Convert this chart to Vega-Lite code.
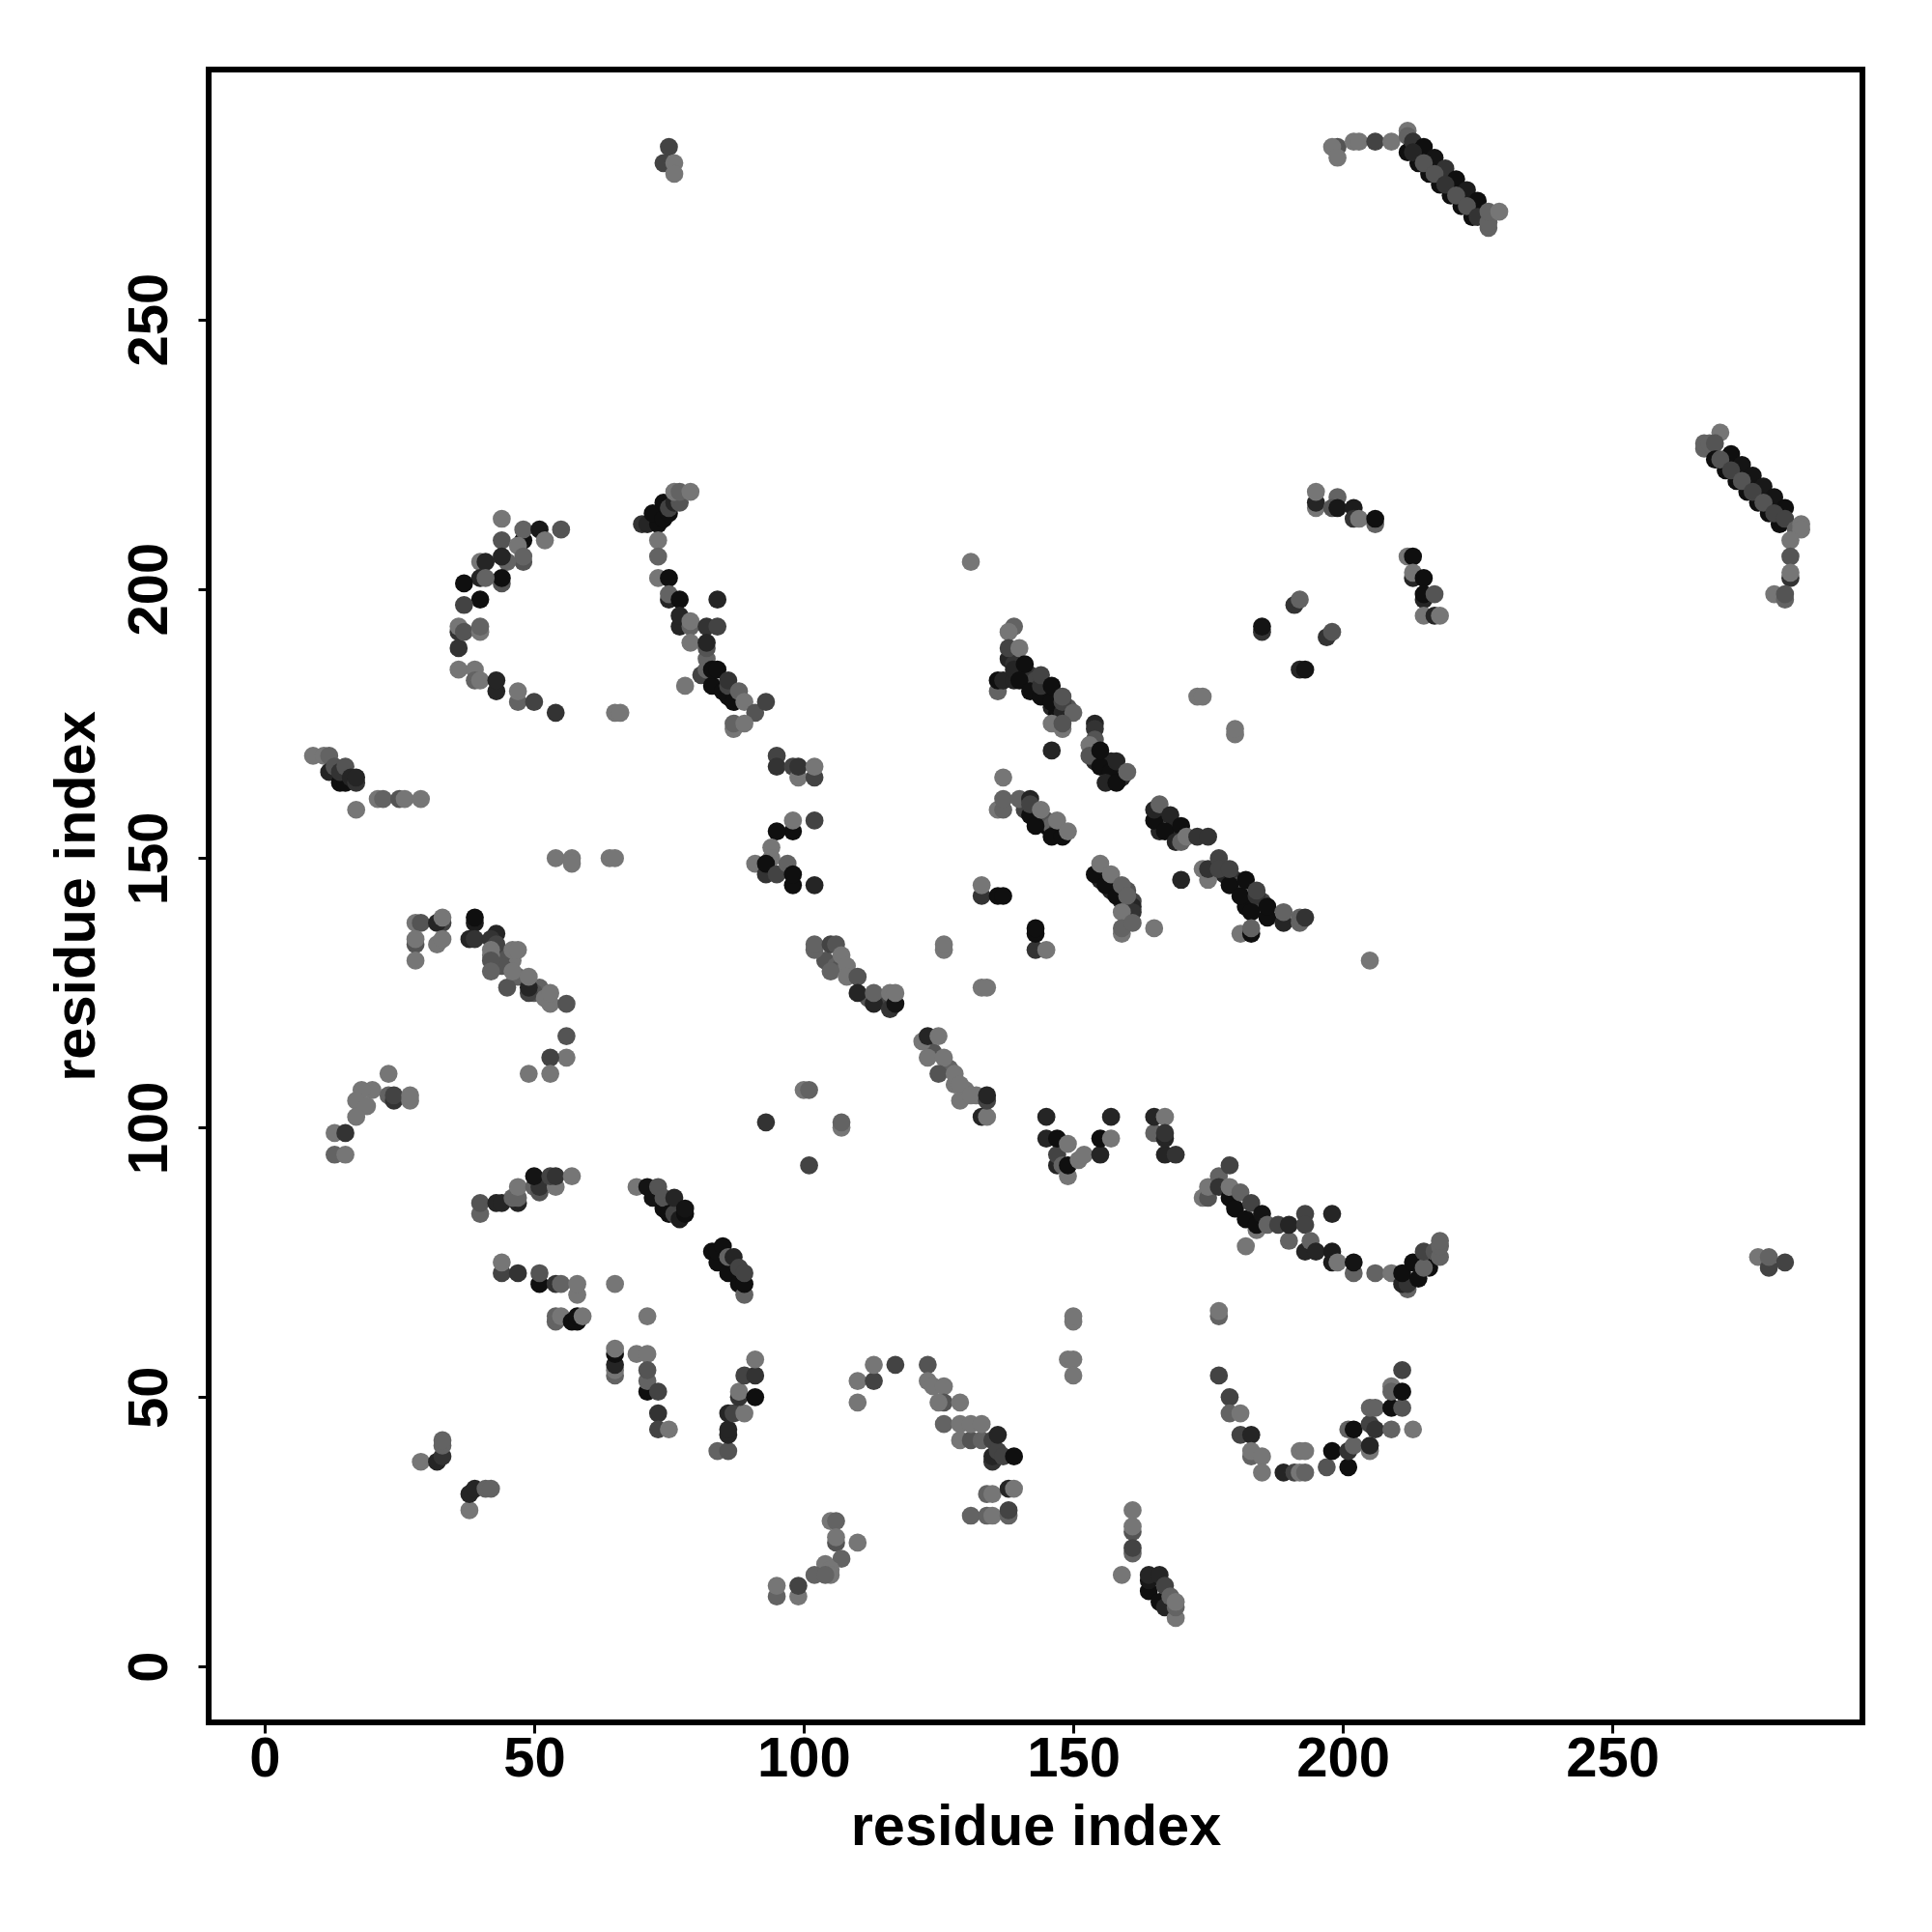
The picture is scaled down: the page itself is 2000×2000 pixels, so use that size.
{"$schema":"https://vega.github.io/schema/vega-lite/v6.json","autosize":{"type":"none"},"padding":{"left":216,"top":72,"right":72,"bottom":217},"width":1712,"height":1711,"background":"white","view":{"stroke":"black","strokeWidth":6,"fill":"white"},"config":{"font":"Liberation Sans"},
"data":{"values":[
{"x":51,"y":126,"g":100},{"x":50,"y":125,"g":85},{"x":45,"y":130,"g":100},{"x":46,"y":131,"g":118},{"x":44,"y":132,"g":85},{"x":47,"y":128,"g":100},{"x":44,"y":130,"g":85},{"x":42,"y":132,"g":118},{"x":104,"y":131,"g":85},{"x":106,"y":130,"g":100},{"x":107,"y":130,"g":85},{"x":108,"y":129,"g":100},{"x":112,"y":124,"g":85},{"x":114,"y":124,"g":68},{"x":127,"y":111,"g":100},{"x":128,"y":108,"g":118},{"x":130,"y":107,"g":118},{"x":132,"y":106,"g":118},{"x":124,"y":114,"g":85},
{"x":178,"y":147,"g":35},{"x":180,"y":146,"g":51},{"x":181,"y":145,"g":85},{"x":183,"y":142,"g":35},{"x":185,"y":142,"g":68},{"x":182,"y":141,"g":10},{"x":138,"y":187,"g":35},{"x":139,"y":186,"g":51},{"x":140,"y":185,"g":68},{"x":141,"y":183,"g":85},{"x":142,"y":184,"g":51},{"x":143,"y":183,"g":68},{"x":145,"y":181,"g":35},{"x":147,"y":180,"g":68},{"x":146,"y":178,"g":35},{"x":149,"y":178,"g":85},{"x":147,"y":177,"g":10},{"x":156,"y":168,"g":68},{"x":157,"y":168,"g":35},{"x":159,"y":165,"g":35},{"x":154,"y":168,"g":35},{"x":141,"y":159,"g":68},{"x":143,"y":158,"g":51},{"x":145,"y":156,"g":10},{"x":145,"y":157,"g":85},{"x":146,"y":156,"g":100},{"x":148,"y":155,"g":85},{"x":147,"y":155,"g":51},{"x":155,"y":146,"g":35},{"x":157,"y":144,"g":35},{"x":159,"y":142,"g":35},{"x":156,"y":147,"g":85},{"x":158,"y":145,"g":85},{"x":160,"y":144,"g":85},{"x":160,"y":141,"g":35},{"x":161,"y":142,"g":68},{"x":166,"y":158,"g":51},{"x":166,"y":155,"g":35},{"x":168,"y":155,"g":51},{"x":169,"y":155,"g":35},
{"x":75,"y":282,"g":68},{"x":74,"y":279,"g":68},{"x":76,"y":279,"g":118},{"x":76,"y":277,"g":118},
{"x":44,"y":213,"g":118},{"x":48,"y":209,"g":10},{"x":48,"y":211,"g":100},{"x":51,"y":211,"g":20},{"x":55,"y":211,"g":85},{"x":52,"y":209,"g":118},{"x":44,"y":209,"g":85},{"x":47,"y":208,"g":118},{"x":48,"y":205,"g":85},{"x":48,"y":206,"g":100},{"x":45,"y":205,"g":100},{"x":44,"y":206,"g":35},{"x":40,"y":205,"g":118},{"x":41,"y":205,"g":35},{"x":44,"y":201,"g":85},{"x":44,"y":202,"g":10},{"x":40,"y":202,"g":35},{"x":41,"y":202,"g":100},{"x":37,"y":201,"g":10},{"x":40,"y":198,"g":10},{"x":37,"y":197,"g":68},{"x":36,"y":189,"g":51},{"x":36,"y":192,"g":51},{"x":36,"y":193,"g":118},{"x":37,"y":192,"g":85},{"x":40,"y":192,"g":118},{"x":40,"y":193,"g":100},{"x":36,"y":185,"g":118},{"x":39,"y":185,"g":118},{"x":39,"y":183,"g":100},{"x":40,"y":183,"g":118},{"x":43,"y":181,"g":35},{"x":43,"y":183,"g":35},{"x":47,"y":179,"g":100},{"x":47,"y":181,"g":118},{"x":50,"y":179,"g":68},{"x":54,"y":177,"g":51},{"x":65,"y":177,"g":118},{"x":66,"y":177,"g":118},
{"x":70,"y":212,"g":51},{"x":71,"y":212,"g":35},{"x":73,"y":212,"g":10},{"x":72,"y":214,"g":10},{"x":74,"y":213,"g":10},{"x":75,"y":214,"g":10},{"x":74,"y":216,"g":10},{"x":75,"y":215,"g":68},{"x":76,"y":216,"g":35},{"x":77,"y":216,"g":85},{"x":76,"y":218,"g":118},{"x":77,"y":218,"g":100},{"x":79,"y":218,"g":118},{"x":73,"y":209,"g":118},{"x":73,"y":206,"g":100},{"x":73,"y":202,"g":118},{"x":75,"y":202,"g":10},{"x":75,"y":198,"g":35},{"x":75,"y":199,"g":100},{"x":77,"y":198,"g":10},{"x":84,"y":198,"g":35},{"x":77,"y":193,"g":35},{"x":77,"y":195,"g":35},{"x":79,"y":193,"g":100},{"x":79,"y":194,"g":118},{"x":82,"y":193,"g":51},{"x":84,"y":193,"g":68},{"x":79,"y":190,"g":118},{"x":82,"y":187,"g":100},{"x":82,"y":189,"g":85},{"x":82,"y":190,"g":35},{"x":81,"y":184,"g":68},{"x":82,"y":185,"g":100},{"x":78,"y":182,"g":118},
{"x":83,"y":182,"g":10},{"x":83,"y":185,"g":10},{"x":84,"y":185,"g":10},{"x":85,"y":181,"g":10},{"x":86,"y":180,"g":10},{"x":86,"y":182,"g":68},{"x":86,"y":183,"g":51},{"x":87,"y":179,"g":10},{"x":88,"y":181,"g":100},{"x":89,"y":179,"g":118},{"x":91,"y":177,"g":85},{"x":93,"y":179,"g":68},{"x":87,"y":174,"g":118},{"x":87,"y":175,"g":100},{"x":89,"y":175,"g":118},
{"x":9,"y":169,"g":118},{"x":11,"y":169,"g":118},{"x":12,"y":169,"g":100},{"x":12,"y":166,"g":35},{"x":13,"y":167,"g":85},{"x":14,"y":164,"g":10},{"x":15,"y":164,"g":10},{"x":14,"y":166,"g":51},{"x":15,"y":167,"g":85},{"x":16,"y":165,"g":35},{"x":17,"y":164,"g":51},{"x":17,"y":165,"g":35},{"x":17,"y":159,"g":118},{"x":21,"y":161,"g":118},{"x":22,"y":161,"g":100},{"x":25,"y":161,"g":85},{"x":26,"y":161,"g":118},{"x":29,"y":161,"g":118},{"x":54,"y":150,"g":118},{"x":57,"y":150,"g":118},{"x":57,"y":149,"g":118},{"x":64,"y":150,"g":118},{"x":65,"y":150,"g":118},
{"x":95,"y":169,"g":68},{"x":95,"y":167,"g":51},{"x":98,"y":167,"g":68},{"x":99,"y":165,"g":118},{"x":99,"y":167,"g":51},{"x":102,"y":165,"g":68},{"x":102,"y":167,"g":118},{"x":98,"y":155,"g":10},{"x":98,"y":157,"g":118},{"x":102,"y":157,"g":68},{"x":95,"y":155,"g":10},{"x":94,"y":152,"g":118},{"x":94,"y":150,"g":118},{"x":91,"y":149,"g":118},{"x":93,"y":147,"g":51},{"x":93,"y":149,"g":10},{"x":95,"y":147,"g":68},{"x":97,"y":149,"g":100},{"x":98,"y":145,"g":10},{"x":98,"y":147,"g":10},{"x":102,"y":145,"g":35},{"x":131,"y":205,"g":118},
{"x":199,"y":282,"g":85},{"x":198,"y":282,"g":118},{"x":199,"y":280,"g":118},{"x":202,"y":283,"g":118},{"x":203,"y":283,"g":118},{"x":206,"y":283,"g":68},{"x":209,"y":283,"g":118},{"x":212,"y":285,"g":118},{"x":212,"y":284,"g":100},{"x":212,"y":281,"g":10},{"x":214,"y":279,"g":10},{"x":216,"y":277,"g":10},{"x":218,"y":275,"g":10},{"x":220,"y":273,"g":10},{"x":222,"y":271,"g":10},{"x":224,"y":269,"g":10},{"x":213,"y":283,"g":51},{"x":215,"y":282,"g":10},{"x":217,"y":280,"g":15},{"x":219,"y":278,"g":51},{"x":221,"y":276,"g":10},{"x":223,"y":274,"g":25},{"x":225,"y":272,"g":10},{"x":213,"y":281,"g":35},{"x":215,"y":279,"g":85},{"x":217,"y":277,"g":85},{"x":219,"y":275,"g":51},{"x":221,"y":273,"g":85},{"x":223,"y":271,"g":85},{"x":225,"y":269,"g":51},{"x":227,"y":267,"g":100},{"x":227,"y":268,"g":100},{"x":227,"y":270,"g":100},{"x":229,"y":270,"g":118},
{"x":267,"y":226,"g":100},{"x":267,"y":227,"g":100},{"x":268,"y":227,"g":100},{"x":270,"y":229,"g":118},{"x":269,"y":227,"g":85},{"x":269,"y":224,"g":10},{"x":271,"y":222,"g":10},{"x":273,"y":220,"g":10},{"x":275,"y":218,"g":10},{"x":277,"y":216,"g":10},{"x":279,"y":214,"g":10},{"x":281,"y":212,"g":10},{"x":272,"y":225,"g":10},{"x":274,"y":223,"g":15},{"x":276,"y":221,"g":15},{"x":278,"y":219,"g":20},{"x":280,"y":217,"g":15},{"x":282,"y":215,"g":10},{"x":270,"y":224,"g":85},{"x":272,"y":222,"g":68},{"x":274,"y":220,"g":85},{"x":276,"y":218,"g":68},{"x":278,"y":216,"g":85},{"x":280,"y":214,"g":68},{"x":282,"y":213,"g":68},{"x":284,"y":211,"g":100},{"x":285,"y":212,"g":118},{"x":285,"y":211,"g":118},{"x":283,"y":209,"g":118},{"x":283,"y":206,"g":85},{"x":283,"y":202,"g":51},{"x":283,"y":203,"g":118},{"x":280,"y":199,"g":118},{"x":282,"y":198,"g":100},{"x":282,"y":199,"g":85},
{"x":195,"y":215,"g":118},{"x":195,"y":216,"g":35},{"x":195,"y":218,"g":118},{"x":199,"y":217,"g":100},{"x":198,"y":215,"g":85},{"x":199,"y":215,"g":20},{"x":202,"y":215,"g":25},{"x":202,"y":213,"g":51},{"x":203,"y":213,"g":118},{"x":206,"y":212,"g":100},{"x":206,"y":213,"g":10},
{"x":212,"y":206,"g":118},{"x":213,"y":206,"g":10},{"x":213,"y":202,"g":35},{"x":213,"y":203,"g":118},{"x":215,"y":202,"g":10},{"x":215,"y":198,"g":35},{"x":215,"y":199,"g":10},{"x":217,"y":199,"g":85},{"x":215,"y":195,"g":118},{"x":217,"y":195,"g":35},{"x":218,"y":195,"g":118},
{"x":191,"y":197,"g":51},{"x":192,"y":198,"g":100},{"x":185,"y":192,"g":51},{"x":185,"y":193,"g":15},{"x":197,"y":191,"g":51},{"x":198,"y":192,"g":85},{"x":192,"y":185,"g":35},{"x":193,"y":185,"g":15},{"x":173,"y":180,"g":118},{"x":174,"y":180,"g":118},{"x":180,"y":173,"g":118},{"x":180,"y":174,"g":118},
{"x":139,"y":193,"g":100},{"x":138,"y":192,"g":118},{"x":138,"y":189,"g":68},{"x":140,"y":189,"g":118},{"x":136,"y":181,"g":100},{"x":136,"y":183,"g":10},{"x":137,"y":183,"g":35},{"x":139,"y":183,"g":35},{"x":139,"y":185,"g":35},{"x":141,"y":186,"g":10},{"x":140,"y":183,"g":10},{"x":142,"y":181,"g":10},{"x":144,"y":180,"g":10},{"x":144,"y":182,"g":51},{"x":144,"y":184,"g":68},{"x":146,"y":179,"g":10},{"x":146,"y":182,"g":10},{"x":148,"y":177,"g":35},{"x":148,"y":179,"g":68},{"x":148,"y":180,"g":85},{"x":150,"y":177,"g":100},{"x":146,"y":175,"g":118},{"x":148,"y":174,"g":118},{"x":148,"y":175,"g":85},{"x":146,"y":170,"g":35},{"x":137,"y":165,"g":118},
{"x":154,"y":175,"g":35},{"x":154,"y":174,"g":51},{"x":154,"y":172,"g":85},{"x":153,"y":171,"g":118},{"x":153,"y":169,"g":85},{"x":155,"y":167,"g":10},{"x":155,"y":170,"g":10},{"x":157,"y":166,"g":10},{"x":158,"y":168,"g":35},{"x":156,"y":164,"g":35},{"x":158,"y":164,"g":10},{"x":160,"y":166,"g":100},
{"x":136,"y":159,"g":118},{"x":137,"y":159,"g":100},{"x":137,"y":161,"g":100},{"x":140,"y":161,"g":100},{"x":142,"y":158,"g":10},{"x":143,"y":156,"g":10},{"x":146,"y":154,"g":10},{"x":148,"y":154,"g":10},{"x":142,"y":161,"g":35},{"x":142,"y":160,"g":68},{"x":144,"y":159,"g":118},{"x":147,"y":157,"g":118},{"x":149,"y":155,"g":118},
{"x":154,"y":147,"g":10},{"x":156,"y":145,"g":10},{"x":158,"y":143,"g":10},{"x":155,"y":149,"g":118},{"x":157,"y":147,"g":118},{"x":159,"y":145,"g":100},{"x":161,"y":141,"g":35},{"x":161,"y":140,"g":51},{"x":160,"y":143,"g":100},{"x":159,"y":140,"g":118},{"x":159,"y":136,"g":118},{"x":159,"y":137,"g":100},{"x":161,"y":138,"g":100},{"x":165,"y":137,"g":118},
{"x":165,"y":157,"g":10},{"x":165,"y":159,"g":35},{"x":166,"y":160,"g":100},{"x":168,"y":158,"g":35},{"x":167,"y":155,"g":10},{"x":170,"y":156,"g":10},{"x":169,"y":153,"g":35},{"x":170,"y":153,"g":100},{"x":171,"y":154,"g":118},{"x":173,"y":154,"g":51},{"x":175,"y":154,"g":51},{"x":170,"y":146,"g":35},
{"x":174,"y":148,"g":118},{"x":175,"y":146,"g":118},{"x":175,"y":148,"g":51},{"x":177,"y":150,"g":68},{"x":177,"y":148,"g":68},{"x":179,"y":145,"g":10},{"x":179,"y":148,"g":68},{"x":181,"y":143,"g":10},{"x":182,"y":146,"g":10},{"x":184,"y":143,"g":51},{"x":184,"y":144,"g":68},{"x":183,"y":140,"g":10},{"x":186,"y":139,"g":10},{"x":186,"y":141,"g":10},{"x":181,"y":136,"g":118},{"x":183,"y":136,"g":10},{"x":183,"y":137,"g":100},{"x":189,"y":138,"g":35},{"x":189,"y":140,"g":100},{"x":192,"y":138,"g":100},{"x":192,"y":139,"g":100},{"x":193,"y":139,"g":51},
{"x":133,"y":143,"g":51},{"x":133,"y":145,"g":118},{"x":136,"y":143,"g":10},{"x":137,"y":143,"g":10},{"x":143,"y":133,"g":51},{"x":143,"y":136,"g":10},{"x":143,"y":137,"g":10},{"x":145,"y":133,"g":118},{"x":205,"y":131,"g":118},
{"x":28,"y":138,"g":118},{"x":29,"y":138,"g":85},{"x":33,"y":138,"g":68},{"x":32,"y":138,"g":35},{"x":33,"y":139,"g":118},{"x":28,"y":134,"g":85},{"x":28,"y":135,"g":118},{"x":28,"y":131,"g":118},{"x":32,"y":134,"g":118},{"x":33,"y":135,"g":118},{"x":39,"y":138,"g":25},{"x":39,"y":139,"g":10},{"x":38,"y":135,"g":35},{"x":39,"y":135,"g":51},{"x":43,"y":136,"g":35},{"x":42,"y":135,"g":51},{"x":43,"y":134,"g":68},{"x":42,"y":133,"g":118},{"x":42,"y":131,"g":85},{"x":42,"y":129,"g":100},{"x":46,"y":133,"g":118},{"x":47,"y":133,"g":118},{"x":45,"y":126,"g":85},{"x":46,"y":129,"g":118},{"x":49,"y":125,"g":68},{"x":49,"y":126,"g":35},{"x":49,"y":128,"g":118},{"x":52,"y":124,"g":118},{"x":53,"y":123,"g":118},{"x":53,"y":125,"g":118},{"x":56,"y":123,"g":85},{"x":56,"y":117,"g":85},{"x":56,"y":113,"g":118},{"x":53,"y":113,"g":68},{"x":49,"y":110,"g":118},{"x":53,"y":110,"g":118},
{"x":23,"y":110,"g":118},{"x":20,"y":107,"g":118},{"x":18,"y":107,"g":118},{"x":17,"y":105,"g":118},{"x":19,"y":104,"g":118},{"x":17,"y":102,"g":118},{"x":23,"y":106,"g":100},{"x":24,"y":105,"g":51},{"x":24,"y":106,"g":68},{"x":27,"y":105,"g":118},{"x":27,"y":106,"g":118},{"x":13,"y":99,"g":118},{"x":15,"y":99,"g":51},{"x":13,"y":95,"g":100},{"x":15,"y":95,"g":118},
{"x":93,"y":101,"g":51},{"x":100,"y":107,"g":118},{"x":101,"y":107,"g":100},{"x":107,"y":100,"g":118},{"x":107,"y":101,"g":100},{"x":101,"y":93,"g":68},
{"x":40,"y":84,"g":100},{"x":40,"y":86,"g":85},{"x":43,"y":86,"g":35},{"x":44,"y":86,"g":35},{"x":47,"y":86,"g":35},{"x":46,"y":87,"g":100},{"x":47,"y":87,"g":100},{"x":47,"y":89,"g":118},{"x":50,"y":89,"g":100},{"x":51,"y":88,"g":85},{"x":51,"y":89,"g":51},{"x":50,"y":91,"g":15},{"x":54,"y":89,"g":118},{"x":53,"y":91,"g":68},{"x":54,"y":91,"g":51},{"x":57,"y":91,"g":118},
{"x":69,"y":89,"g":118},{"x":71,"y":89,"g":15},{"x":72,"y":87,"g":15},{"x":73,"y":89,"g":85},{"x":74,"y":85,"g":10},{"x":74,"y":87,"g":85},{"x":75,"y":84,"g":10},{"x":76,"y":84,"g":68},{"x":76,"y":87,"g":35},{"x":77,"y":83,"g":25},{"x":78,"y":84,"g":10},{"x":78,"y":85,"g":15},
{"x":83,"y":77,"g":10},{"x":84,"y":75,"g":10},{"x":84,"y":77,"g":10},{"x":85,"y":78,"g":10},{"x":86,"y":73,"g":10},{"x":86,"y":76,"g":100},{"x":87,"y":76,"g":35},{"x":88,"y":71,"g":10},{"x":88,"y":74,"g":68},{"x":89,"y":69,"g":100},{"x":89,"y":71,"g":10},{"x":89,"y":73,"g":68},
{"x":44,"y":73,"g":68},{"x":44,"y":75,"g":118},{"x":47,"y":73,"g":51},{"x":51,"y":71,"g":10},{"x":51,"y":73,"g":85},{"x":54,"y":71,"g":51},{"x":55,"y":71,"g":100},{"x":58,"y":69,"g":118},{"x":58,"y":71,"g":118},{"x":65,"y":71,"g":118},{"x":54,"y":64,"g":100},{"x":54,"y":65,"g":100},{"x":55,"y":65,"g":118},{"x":57,"y":64,"g":10},{"x":58,"y":64,"g":10},{"x":58,"y":65,"g":10},{"x":59,"y":65,"g":118},{"x":71,"y":65,"g":118},
{"x":69,"y":58,"g":118},{"x":71,"y":58,"g":118},{"x":65,"y":54,"g":100},{"x":65,"y":55,"g":118},{"x":65,"y":56,"g":35},{"x":65,"y":58,"g":10},{"x":65,"y":59,"g":118},{"x":71,"y":51,"g":10},{"x":71,"y":53,"g":100},{"x":71,"y":55,"g":85},{"x":73,"y":51,"g":68},{"x":73,"y":47,"g":51},{"x":73,"y":44,"g":68},{"x":75,"y":44,"g":118},
{"x":84,"y":40,"g":100},{"x":86,"y":40,"g":85},{"x":86,"y":43,"g":35},{"x":86,"y":44,"g":35},{"x":86,"y":47,"g":35},{"x":87,"y":47,"g":68},{"x":89,"y":47,"g":118},{"x":88,"y":50,"g":51},{"x":88,"y":51,"g":118},{"x":91,"y":50,"g":10},{"x":89,"y":54,"g":68},{"x":91,"y":54,"g":51},{"x":91,"y":57,"g":118},
{"x":110,"y":49,"g":118},{"x":110,"y":53,"g":118},{"x":113,"y":53,"g":68},{"x":113,"y":56,"g":118},{"x":117,"y":56,"g":68},
{"x":123,"y":56,"g":85},{"x":123,"y":53,"g":118},{"x":124,"y":52,"g":118},{"x":126,"y":52,"g":118},{"x":126,"y":49,"g":85},{"x":125,"y":49,"g":118},{"x":126,"y":45,"g":100},{"x":129,"y":49,"g":118},{"x":129,"y":45,"g":118},{"x":129,"y":42,"g":118},{"x":131,"y":42,"g":85},{"x":131,"y":45,"g":118},{"x":133,"y":42,"g":100},{"x":133,"y":45,"g":118},{"x":135,"y":38,"g":51},{"x":135,"y":39,"g":35},{"x":135,"y":42,"g":68},{"x":136,"y":40,"g":68},{"x":136,"y":43,"g":35},{"x":137,"y":39,"g":68},{"x":139,"y":39,"g":10},
{"x":134,"y":32,"g":100},{"x":135,"y":32,"g":118},{"x":138,"y":33,"g":35},{"x":139,"y":33,"g":118},{"x":131,"y":28,"g":100},{"x":134,"y":28,"g":100},{"x":135,"y":28,"g":118},{"x":138,"y":28,"g":100},{"x":138,"y":29,"g":68},
{"x":105,"y":27,"g":118},{"x":106,"y":27,"g":100},{"x":110,"y":23,"g":118},{"x":106,"y":23,"g":85},{"x":106,"y":24,"g":118},{"x":107,"y":20,"g":100},{"x":104,"y":19,"g":118},{"x":105,"y":18,"g":118},{"x":102,"y":17,"g":100},{"x":105,"y":17,"g":118},{"x":104,"y":17,"g":100},{"x":95,"y":13,"g":100},{"x":95,"y":15,"g":118},{"x":99,"y":13,"g":118},{"x":99,"y":15,"g":68},
{"x":29,"y":38,"g":118},{"x":32,"y":38,"g":35},{"x":33,"y":39,"g":51},{"x":33,"y":41,"g":100},{"x":33,"y":42,"g":100},{"x":38,"y":29,"g":118},{"x":38,"y":32,"g":35},{"x":39,"y":33,"g":35},{"x":41,"y":33,"g":100},{"x":42,"y":33,"g":100},
{"x":102,"y":133,"g":100},{"x":102,"y":134,"g":100},{"x":105,"y":134,"g":68},{"x":106,"y":134,"g":85},{"x":107,"y":132,"g":118},{"x":108,"y":130,"g":118},{"x":105,"y":129,"g":100},{"x":108,"y":128,"g":118},{"x":110,"y":128,"g":85},{"x":110,"y":125,"g":35},{"x":113,"y":123,"g":35},{"x":113,"y":125,"g":100},{"x":116,"y":122,"g":51},{"x":116,"y":125,"g":118},{"x":117,"y":123,"g":15},{"x":117,"y":125,"g":118},{"x":126,"y":133,"g":118},{"x":126,"y":134,"g":118},{"x":133,"y":126,"g":118},{"x":134,"y":126,"g":118},
{"x":122,"y":116,"g":118},{"x":123,"y":117,"g":35},{"x":125,"y":117,"g":118},{"x":123,"y":113,"g":118},{"x":126,"y":113,"g":118},{"x":125,"y":110,"g":85},{"x":128,"y":110,"g":118},{"x":129,"y":108,"g":118},{"x":129,"y":105,"g":118},{"x":131,"y":106,"g":118},{"x":133,"y":102,"g":35},{"x":134,"y":102,"g":118},{"x":134,"y":105,"g":68},{"x":134,"y":106,"g":35},
{"x":145,"y":98,"g":35},{"x":145,"y":102,"g":35},{"x":147,"y":93,"g":35},{"x":147,"y":95,"g":68},{"x":147,"y":98,"g":10},{"x":148,"y":93,"g":100},{"x":149,"y":91,"g":118},{"x":149,"y":93,"g":10},{"x":149,"y":97,"g":118},{"x":151,"y":94,"g":118},{"x":152,"y":95,"g":118},{"x":155,"y":95,"g":35},{"x":155,"y":98,"g":10},{"x":157,"y":98,"g":118},{"x":157,"y":102,"g":35},
{"x":165,"y":99,"g":100},{"x":165,"y":102,"g":35},{"x":167,"y":102,"g":118},{"x":167,"y":95,"g":35},{"x":167,"y":98,"g":35},{"x":167,"y":99,"g":51},{"x":169,"y":95,"g":51},
{"x":174,"y":87,"g":118},{"x":175,"y":87,"g":85},{"x":175,"y":89,"g":118},{"x":177,"y":91,"g":100},{"x":177,"y":89,"g":51},{"x":179,"y":93,"g":68},{"x":179,"y":87,"g":10},{"x":179,"y":89,"g":118},{"x":180,"y":85,"g":10},{"x":181,"y":88,"g":100},{"x":182,"y":83,"g":10},{"x":182,"y":78,"g":118},{"x":183,"y":86,"g":68},{"x":184,"y":81,"g":118},{"x":184,"y":82,"g":10},{"x":185,"y":84,"g":15},{"x":186,"y":82,"g":100},{"x":188,"y":82,"g":68},{"x":190,"y":79,"g":100},{"x":190,"y":82,"g":35},{"x":193,"y":84,"g":68},{"x":193,"y":82,"g":68},{"x":193,"y":77,"g":35},{"x":194,"y":79,"g":100},{"x":195,"y":77,"g":35},{"x":198,"y":84,"g":35},{"x":198,"y":75,"g":25},{"x":198,"y":77,"g":25},{"x":199,"y":75,"g":118},{"x":202,"y":73,"g":100},{"x":202,"y":75,"g":15},{"x":206,"y":73,"g":100},{"x":209,"y":73,"g":118},
{"x":212,"y":70,"g":100},{"x":211,"y":71,"g":35},{"x":212,"y":71,"g":51},{"x":211,"y":73,"g":10},{"x":214,"y":72,"g":10},{"x":213,"y":75,"g":10},{"x":216,"y":74,"g":10},{"x":215,"y":74,"g":100},{"x":215,"y":77,"g":68},{"x":217,"y":77,"g":85},{"x":218,"y":76,"g":100},{"x":218,"y":78,"g":100},{"x":218,"y":79,"g":100},
{"x":277,"y":76,"g":118},{"x":279,"y":74,"g":68},{"x":279,"y":76,"g":100},{"x":282,"y":75,"g":68},
{"x":150,"y":64,"g":118},{"x":150,"y":65,"g":118},{"x":149,"y":57,"g":118},{"x":150,"y":57,"g":118},{"x":150,"y":54,"g":118},{"x":177,"y":65,"g":100},{"x":177,"y":66,"g":118},
{"x":177,"y":54,"g":68},{"x":179,"y":50,"g":68},{"x":179,"y":47,"g":100},{"x":181,"y":47,"g":118},{"x":181,"y":43,"g":68},{"x":183,"y":43,"g":35},{"x":183,"y":39,"g":100},{"x":183,"y":40,"g":118},{"x":185,"y":39,"g":118},{"x":185,"y":36,"g":118},{"x":189,"y":36,"g":35},{"x":191,"y":36,"g":68},{"x":192,"y":36,"g":118},{"x":193,"y":36,"g":100},{"x":192,"y":40,"g":118},{"x":193,"y":40,"g":118},{"x":197,"y":37,"g":85},{"x":198,"y":40,"g":10},{"x":201,"y":37,"g":10},{"x":201,"y":40,"g":51},{"x":201,"y":44,"g":100},{"x":202,"y":41,"g":100},{"x":202,"y":44,"g":10},{"x":205,"y":40,"g":118},{"x":205,"y":41,"g":35},{"x":205,"y":45,"g":68},{"x":206,"y":44,"g":51},{"x":205,"y":48,"g":100},{"x":206,"y":48,"g":100},{"x":209,"y":44,"g":100},{"x":209,"y":48,"g":10},{"x":209,"y":52,"g":118},{"x":209,"y":51,"g":100},{"x":211,"y":48,"g":85},{"x":211,"y":51,"g":10},{"x":211,"y":55,"g":68},{"x":213,"y":44,"g":118},
{"x":161,"y":29,"g":118},{"x":161,"y":25,"g":85},{"x":161,"y":26,"g":118},{"x":161,"y":21,"g":100},{"x":161,"y":22,"g":68},{"x":159,"y":17,"g":118},
{"x":164,"y":14,"g":10},{"x":164,"y":16,"g":20},{"x":164,"y":17,"g":35},{"x":166,"y":12,"g":10},{"x":166,"y":17,"g":35},{"x":167,"y":15,"g":68},{"x":167,"y":11,"g":35},{"x":168,"y":13,"g":100},{"x":169,"y":9,"g":118},{"x":169,"y":11,"g":100},{"x":169,"y":12,"g":118}
]},
"mark":{"type":"circle","size":350,"opacity":1},
"encoding":{
"x":{"field":"x","type":"quantitative","scale":{"domain":[-10.36,296.36],"nice":false,"zero":false},"axis":{"title":"residue index","values":[0,50,100,150,200,250],"grid":false,"domain":false,"tickColor":"black","tickWidth":3,"tickSize":11,"labelFont":"Liberation Sans","labelFontWeight":"bold","labelFontSize":58,"labelColor":"black","labelPadding":-2,"labelFlush":false,"titleFont":"Liberation Sans","titleFontWeight":"bold","titleFontSize":59.5,"titleColor":"black","titlePadding":12}},
"y":{"field":"y","type":"quantitative","scale":{"domain":[-10.36,296.36],"nice":false,"zero":false},"axis":{"title":"residue index","values":[0,50,100,150,200,250],"grid":false,"domain":false,"tickColor":"black","tickWidth":3,"tickSize":11,"labelFont":"Liberation Sans","labelFontWeight":"bold","labelFontSize":58,"labelColor":"black","labelAngle":-90,"labelAlign":"center","labelBaseline":"bottom","labelPadding":21,"titleFont":"Liberation Sans","titleFontWeight":"bold","titleFontSize":59.5,"titleColor":"black","titlePadding":17}},
"color":{"field":"g","type":"quantitative","legend":null,"scale":{"domain":[0,119],"range":["#000000","#777777"]}}
}}
